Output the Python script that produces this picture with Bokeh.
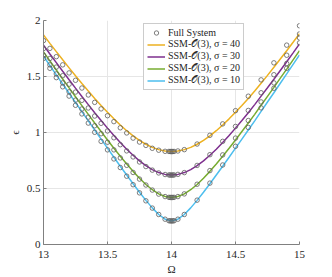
from bokeh.plotting import figure
from bokeh.models import Range1d, FixedTicker, Legend, LegendItem
from bokeh.embed import file_html
from bokeh.resources import INLINE

# ---- data ----
omega_line = [13.00, 13.05, 13.10, 13.15, 13.20, 13.25, 13.30, 13.35, 13.40, 13.45,
              13.50, 13.55, 13.60, 13.65, 13.70, 13.75, 13.80, 13.85, 13.90, 13.95,
              14.00, 14.05, 14.10, 14.15, 14.20, 14.25, 14.30, 14.35, 14.40, 14.45,
              14.50, 14.55, 14.60, 14.65, 14.70, 14.75, 14.80, 14.85, 14.90, 14.95, 15.00]

eps_ssm_40 = [1.871, 1.796, 1.722, 1.649, 1.577, 1.506, 1.437, 1.370, 1.304, 1.241,
              1.180, 1.122, 1.067, 1.016, 0.970, 0.930, 0.895, 0.867, 0.847, 0.834,
              0.830, 0.834, 0.847, 0.867, 0.895, 0.930, 0.970, 1.016, 1.067, 1.122,
              1.180, 1.241, 1.304, 1.370, 1.440, 1.510, 1.582, 1.656, 1.730, 1.806, 1.883]
eps_ssm_30 = [1.779, 1.701, 1.624, 1.547, 1.471, 1.396, 1.322, 1.249, 1.177, 1.107,
              1.039, 0.973, 0.911, 0.851, 0.797, 0.747, 0.704, 0.669, 0.642, 0.626,
              0.620, 0.626, 0.642, 0.669, 0.704, 0.747, 0.797, 0.851, 0.911, 0.973,
              1.039, 1.107, 1.177, 1.249, 1.325, 1.400, 1.476, 1.554, 1.632, 1.711, 1.791]
eps_ssm_20 = [1.719, 1.639, 1.558, 1.478, 1.398, 1.319, 1.240, 1.162, 1.085, 1.009,
              0.933, 0.860, 0.788, 0.719, 0.653, 0.592, 0.536, 0.489, 0.452, 0.428,
              0.420, 0.428, 0.452, 0.489, 0.536, 0.592, 0.653, 0.719, 0.788, 0.860,
              0.933, 1.009, 1.085, 1.162, 1.243, 1.323, 1.403, 1.485, 1.566, 1.649, 1.731]
eps_ssm_10 = [1.681, 1.598, 1.515, 1.433, 1.350, 1.268, 1.186, 1.104, 1.022, 0.941,
              0.860, 0.779, 0.699, 0.620, 0.542, 0.467, 0.394, 0.327, 0.268, 0.226,
              0.210, 0.226, 0.268, 0.327, 0.394, 0.467, 0.542, 0.620, 0.699, 0.779,
              0.860, 0.941, 1.022, 1.104, 1.189, 1.272, 1.355, 1.440, 1.523, 1.608, 1.693]

omega_full = [13.00, 13.05, 13.10, 13.15, 13.20, 13.25, 13.30, 13.35, 13.40, 13.45,
              13.50, 13.55, 13.60, 13.65, 13.70, 13.75, 13.80, 13.85, 13.90, 13.95,
              13.98, 13.99, 14.00, 14.01, 14.02, 14.05,
              14.10, 14.20, 14.30, 14.40, 14.50, 14.60, 14.70, 14.80, 14.90, 15.00]

eps_full_40 = [1.821, 1.751, 1.677, 1.604, 1.532, 1.466, 1.397, 1.335, 1.269, 1.211,
               1.150, 1.097, 1.042, 0.996, 0.950, 0.915, 0.885, 0.859, 0.842, 0.832,
               0.831, 0.830, 0.830, 0.830, 0.831, 0.835,
               0.847, 0.897, 0.975, 1.077, 1.195, 1.324, 1.470, 1.622, 1.780, 1.953]
eps_full_30 = [1.749, 1.661, 1.584, 1.507, 1.431, 1.361, 1.287, 1.219, 1.147, 1.082,
               1.014, 0.953, 0.891, 0.836, 0.782, 0.737, 0.696, 0.664, 0.639, 0.625,
               0.621, 0.620, 0.620, 0.620, 0.621, 0.626,
               0.642, 0.706, 0.802, 0.921, 1.054, 1.197, 1.355, 1.516, 1.690, 1.880]
eps_full_20 = [1.689, 1.604, 1.523, 1.443, 1.363, 1.289, 1.210, 1.137, 1.060, 0.989,
               0.913, 0.845, 0.773, 0.707, 0.643, 0.584, 0.531, 0.486, 0.450, 0.428,
               0.421, 0.420, 0.420, 0.420, 0.421, 0.428,
               0.452, 0.538, 0.660, 0.800, 0.950, 1.107, 1.273, 1.443, 1.616, 1.845]
eps_full_10 = [1.661, 1.573, 1.490, 1.408, 1.325, 1.243, 1.166, 1.084, 1.002, 0.921,
               0.845, 0.764, 0.687, 0.610, 0.534, 0.461, 0.390, 0.325, 0.268, 0.226,
               0.212, 0.211, 0.210, 0.211, 0.212, 0.226,
               0.268, 0.396, 0.548, 0.710, 0.877, 1.045, 1.220, 1.395, 1.573, 1.800]

sigma_labels = ["SSM-\U0001D4AA(3), \u03c3 = 40", "SSM-\U0001D4AA(3), \u03c3 = 30",
                "SSM-\U0001D4AA(3), \u03c3 = 20", "SSM-\U0001D4AA(3), \u03c3 = 10"]
full_label = "Full System"
x_ticks = [13, 13.5, 14, 14.5, 15]
x_tick_labels = ["13", "13.5", "14", "14.5", "15"]
y_ticks = [0, 0.5, 1, 1.5, 2]
y_tick_labels = ["0", "0.5", "1", "1.5", "2"]

colors = ["#EDB120", "#7E2F8E", "#77AC30", "#4DBEEE"]
FONT = "Liberation Serif"
LEG_FONT = "'Liberation Serif', 'DejaVu Serif', 'DejaVu Sans', serif"

p = figure(frame_width=256, frame_height=224, output_backend="svg", toolbar_location=None,
           x_range=Range1d(13, 15), y_range=Range1d(0, 2),
           min_border_left=43, min_border_right=33, min_border_top=20, min_border_bottom=33)
p.outline_line_color = None
p.background_fill_color = "white"

for ax in (p.xaxis[0], p.yaxis[0]):
    ax.axis_line_color = "#808080"
    ax.major_tick_line_color = "#808080"
    ax.major_tick_in = 3
    ax.major_tick_out = 0
    ax.minor_tick_line_color = None
    ax.major_label_text_font = FONT
    ax.major_label_text_font_size = "11px"
    ax.major_label_text_color = "#262626"
    ax.axis_label_text_font = FONT
    ax.axis_label_text_font_style = "normal"
    ax.axis_label_text_font_size = "11px"
    ax.axis_label_text_color = "#262626"

p.xaxis.major_label_standoff = 6
p.yaxis.major_label_standoff = 3
p.xaxis.ticker = FixedTicker(ticks=x_ticks)
p.yaxis.ticker = FixedTicker(ticks=y_ticks)
p.xaxis.major_label_overrides = dict(zip(x_ticks, x_tick_labels))
p.yaxis.major_label_overrides = dict(zip(y_ticks, y_tick_labels))
p.xaxis.axis_label = "\u03a9"
p.yaxis.axis_label = "\u03f5"
p.xaxis.axis_label_standoff = 2
p.yaxis.axis_label_standoff = 3

p.xgrid.ticker = FixedTicker(ticks=x_ticks)
p.ygrid.ticker = FixedTicker(ticks=y_ticks)
p.grid.grid_line_color = "#e6e6e6"
p.grid.grid_line_width = 1

lines = []
for ys, c in zip([eps_ssm_40, eps_ssm_30, eps_ssm_20, eps_ssm_10], colors):
    lines.append(p.line(omega_line, ys, line_color=c, line_width=1.5))

circles = []
for ys in [eps_full_40, eps_full_30, eps_full_20, eps_full_10]:
    circles.append(p.scatter(omega_full, ys, marker="circle", size=4.5, fill_color=None,
                             line_color="#5e5e5e", line_width=0.8))

items = [LegendItem(label=full_label, renderers=[circles[0]])]
for lab, r in zip(sigma_labels, lines):
    items.append(LegendItem(label=lab, renderers=[r]))

legend = Legend(items=items, location=(100, 154))
legend.label_text_font = LEG_FONT
legend.label_text_font_size = "10px"
legend.label_text_color = "#262626"
legend.label_height = 11
legend.label_standoff = 3
legend.glyph_width = 18
legend.glyph_height = 11
legend.spacing = 0
legend.padding = 3
legend.margin = 0
legend.border_line_color = "#999999"
legend.border_line_width = 1
legend.background_fill_alpha = 1
p.add_layout(legend, "center")

open("out.html", "w").write(file_html(p, INLINE))
